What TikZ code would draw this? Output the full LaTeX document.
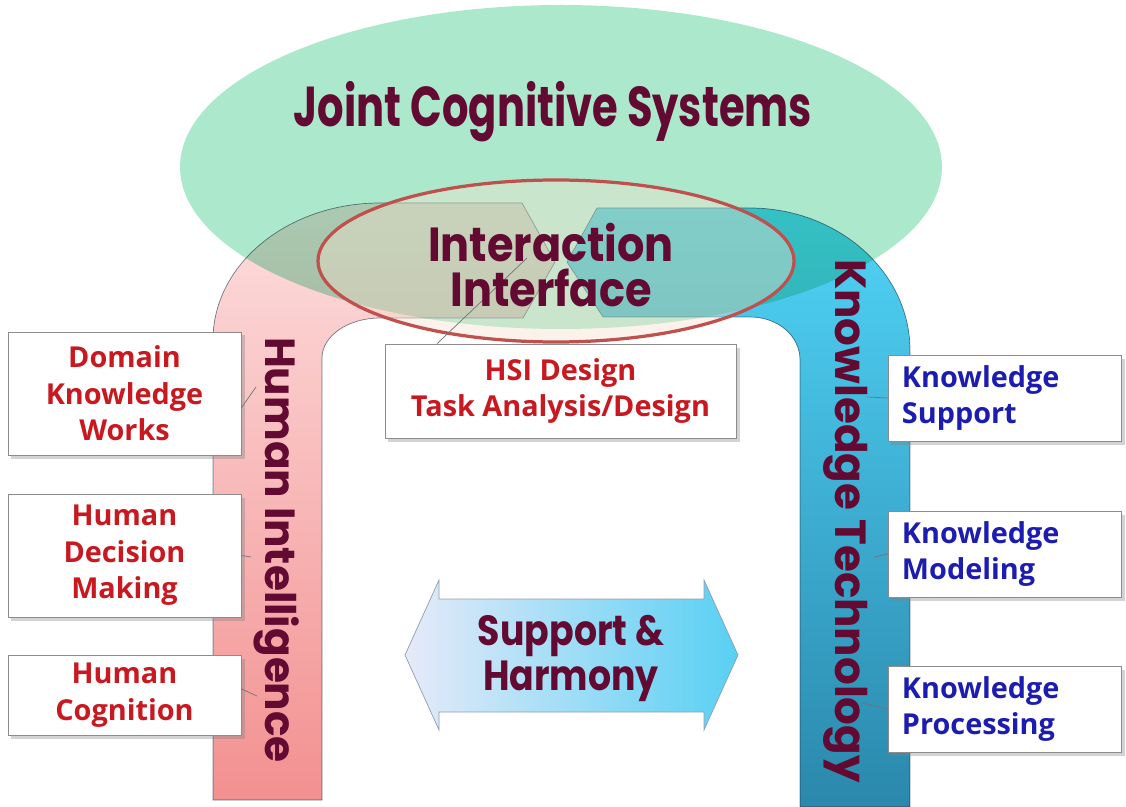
\documentclass[tikz,border=0pt]{standalone}
\usepackage{fontspec}
\setmainfont{Open Sans}
\newfontfamily\headfont{Poppins}
\usepackage{xcolor}
\usetikzlibrary{shadows,positioning}

\definecolor{jcsgreen}{RGB}{172,233,204}
\definecolor{jcsmaroon}{RGB}{98,10,50}
\definecolor{boxred}{RGB}{200,24,32}
\definecolor{boxblue}{RGB}{28,28,176}
\definecolor{ringred}{RGB}{192,80,77}
\definecolor{ringfill}{RGB}{245,225,205}
\definecolor{pinktop}{RGB}{253,222,222}
\definecolor{pinkbot}{RGB}{243,144,144}
\definecolor{cyantop}{RGB}{80,212,247}
\definecolor{cyanmid}{RGB}{62,182,218}
\definecolor{cyanbot}{RGB}{42,136,172}
\definecolor{arrowleft}{RGB}{230,234,249}
\definecolor{arrowright}{RGB}{88,208,243}
\definecolor{edgegray}{RGB}{120,132,150}

\begin{document}
\begin{tikzpicture}[x=0.025cm, y=-0.025cm,
    box/.style={draw=black!45, line width=0.5pt, fill=white, rectangle,
      drop shadow={shadow xshift=2.5pt, shadow yshift=-2.5pt, opacity=0.35}},
    redbox/.style={box, text=boxred, align=center, minimum width=5.825cm,
      font=\fontsize{20.5}{26}\selectfont\bfseries},
    bluebox/.style={box, text=boxblue, align=left, text width=5.125cm, inner xsep=0.35cm,
      minimum height=2.15cm, font=\fontsize{20.5}{26}\selectfont\bfseries},
    bigtext/.style={text=jcsmaroon, font=\headfont\bfseries},
    arch/.style={draw=edgegray, line width=0.5pt, blend mode=multiply},
    link/.style={draw=black!55, line width=0.5pt}
]
\useasboundingbox (0,0) rectangle (1126,807);

% outer ellipse
\fill[jcsgreen] (561,167) ellipse [x radius=381, y radius=162];

% the two arches
\path[arch, top color=pinktop, bottom color=pinkbot]
  (213,800) -- (213,340) .. controls (213,264) and (288,203) .. (380,203)
  -- (522,203) -- (555,262) -- (523,318) -- (380,318)
  .. controls (348,318) and (322,336) .. (322,358) -- (322,800) -- cycle;
\path[arch, top color=cyantop, middle color=cyanmid, bottom color=cyanbot]
  (800,807) -- (800,360) .. controls (800,336) and (778,317) .. (750,317)
  -- (603,317) -- (567,262) -- (597,208) -- (750,208)
  .. controls (838,208) and (910,272) .. (910,350) -- (910,807) -- cycle;

% interface ring
\draw[ringred, line width=2.3pt, fill=ringfill, fill opacity=0.4]
  (556,261) ellipse [x radius=238, y radius=81];

% boxes
\node[redbox, minimum height=3.075cm] (dkw) at (124.5,393.5) {Domain\\Knowledge\\Works};
\node[redbox, minimum height=3.075cm] (hdm) at (124.5,555.5) {Human\\Decision\\Making};
\node[redbox, minimum height=2cm] (hcog) at (124.5,695) {Human\\Cognition};
\node[redbox, minimum width=8.775cm, minimum height=2.35cm] (hsi) at (560.5,391)
  {HSI Design\\Task Analysis/Design};
\node[bluebox] (ksup) at (1004.5,398) {Knowledge\\Support};
\node[bluebox] (kmod) at (1004.5,554) {Knowledge\\Modeling};
\node[bluebox] (kproc) at (1004.5,709) {Knowledge\\Processing};

% leader lines
\coordinate (hiA) at (256,387);
\coordinate (hiB) at (251,557);
\coordinate (hiC) at (257,696);
\coordinate (ifc) at (527,258);
\coordinate (ktA) at (867,397);
\coordinate (ktB) at (874,557);
\coordinate (ktC) at (862,703);
\draw[link] (dkw.-7) -- (hiA);
\draw[link] (hdm.east) -- (hiB);
\draw[link] (hcog.3) -- (hiC);
\draw[link] (hsi.159.5) -- (ifc);
\draw[link] (ksup.west) -- (ktA);
\draw[link] (kmod.west) -- (ktB);
\draw[link] (kproc.west) -- (ktC);

% titles
\node[bigtext, font=\headfont\bfseries\fontsize{40}{40}\selectfont] (jcs) at (553,112)
  {\scalebox{0.74}[1]{Joint Cognitive Systems}};
\node[bigtext, align=center, font=\headfont\bfseries\fontsize{34}{32}\selectfont] (iface)
  at (551,265) {\scalebox{0.9}[1]{Interaction}\\\scalebox{0.9}[1]{Interface}};
\node[bigtext, rotate=-90, font=\headfont\bfseries\fontsize{30}{30}\selectfont] (hint)
  at (277,550) {Human Intelligence};
\node[bigtext, rotate=-90, font=\headfont\bfseries\fontsize{31}{31}\selectfont] (ktech)
  at (846,521) {Knowledge Technology};

% support & harmony
\path[draw=edgegray!80, line width=0.5pt, left color=arrowleft, right color=arrowright]
  (405,655) -- (439,580) -- (439,599) -- (704,599) -- (704,580) -- (738,655)
  -- (704,730) -- (704,712) -- (439,712) -- (439,730) -- cycle;
\node[bigtext, align=center, font=\headfont\bfseries\fontsize{30}{32}\selectfont] (harm)
  at (571,658) {\scalebox{0.86}[1]{Support \&}\\\scalebox{0.86}[1]{Harmony}};
\end{tikzpicture}
\end{document}
